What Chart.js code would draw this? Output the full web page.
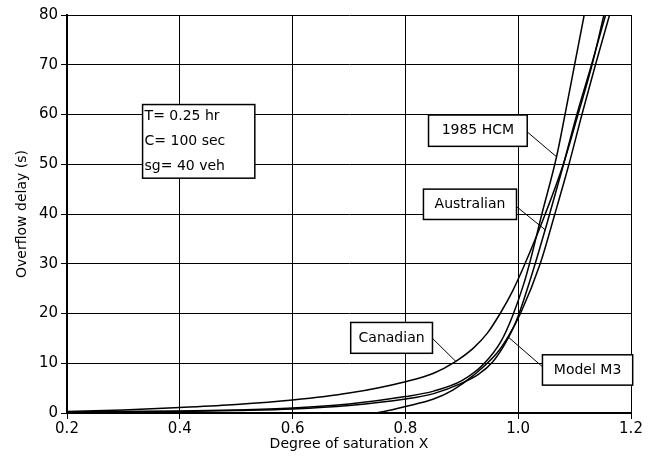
<!DOCTYPE html>
<html>

<head>
    <title>Overflow delay</title>
    <script src="https://cdn.jsdelivr.net/npm/chart.js"></script>
    <style>
        html, body {
            margin: 0;
            padding: 0;
            background: #fff;
        }

        #wrap {
            width: 654px;
            height: 461px;
        }
    </style>
</head>

<body>
    <div id="wrap"><canvas id="myChart"></canvas></div>

    <script>
        // values
        const xTicks = [0.2, 0.4, 0.6, 0.8, 1.0, 1.2];
        const yTicks = [0, 10, 20, 30, 40, 50, 60, 70, 80];

        const hcmX = [0.2, 0.3, 0.4, 0.5, 0.6, 0.7, 0.8, 0.85, 0.9, 0.94, 0.97, 0.99, 1.01, 1.02, 1.042, 1.068, 1.083, 1.1, 1.117];
        const hcmY = [0.2, 0.3, 0.4, 0.6, 1.0, 1.8, 3.3, 4.4, 6.5, 10, 14.5, 19.5, 26, 30, 40, 51.5, 60, 70, 80];

        const ausX = [0.2, 0.4, 0.5, 0.6, 0.7, 0.8, 0.85, 0.9, 0.93, 0.955, 0.975, 0.99, 1.0, 1.026, 1.052, 1.078, 1.104, 1.13, 1.155];
        const ausY = [0.1, 0.3, 0.5, 0.8, 1.5, 2.8, 3.9, 6, 7.8, 10.3, 13.6, 16.8, 19.5, 28.5, 38.5, 49, 60, 70, 80];

        const canX = [0.2, 0.3, 0.4, 0.5, 0.6, 0.7, 0.8, 0.85, 0.888, 0.92, 0.945, 0.968, 0.99, 1.012, 1.048, 1.08, 1.106, 1.131, 1.152];
        const canY = [0.3, 0.6, 1.1, 1.7, 2.6, 4.0, 6.3, 8.0, 10.3, 13, 16, 20, 24.5, 30, 40, 50, 60, 70, 80];

        const m3X = [0.2, 0.6, 0.74, 0.77, 0.8, 0.85, 0.884, 0.92, 0.962, 0.982, 1.004, 1.039, 1.065, 1.09, 1.113, 1.137, 1.162];
        const m3Y = [0, 0, 0, 0.5, 1.3, 2.8, 4.6, 7.5, 12, 15.3, 20, 30, 40, 50, 60, 70, 80];

        const paramLines = ['T= 0.25 hr', 'C= 100 sec', 'sg= 40 veh'];

        function pts(xs, ys) {
            return xs.map((x, i) => ({ x: x, y: ys[i] }));
        }

        function curve(label, xs, ys) {
            return {
                label: label,
                data: pts(xs, ys),
                showLine: true,
                borderColor: '#000',
                borderWidth: 1.5,
                pointRadius: 0,
                cubicInterpolationMode: 'monotone',
                fill: false
            };
        }

        const FONT = '"DejaVu Sans", sans-serif';

        // label boxes in data units, leader goes from [lx0,ly0] to [lx1,ly1]
        const boxes = [
            { text: ['1985 HCM'], x0: 0.841, x1: 1.016, y0: 59.9, y1: 53.6, lead: [1.016, 56.5, 1.068, 51.5] },
            { text: ['Australian'], x0: 0.832, x1: 0.997, y0: 45.0, y1: 38.9, lead: [0.997, 41.5, 1.048, 36.8] },
            { text: ['Canadian'], x0: 0.703, x1: 0.848, y0: 18.2, y1: 12.0, lead: [0.848, 15.0, 0.890, 10.3] },
            { text: ['Model M3'], x0: 1.043, x1: 1.203, y0: 11.7, y1: 5.6, lead: [1.043, 9.3, 0.982, 15.3] },
            { text: paramLines, x0: 0.334, x1: 0.533, y0: 62.0, y1: 47.2, left: true }
        ];

        const labelBoxes = {
            id: 'labelBoxes',
            afterDatasetsDraw(chart) {
                const c = chart.ctx;
                const xs = chart.scales.x;
                const ys = chart.scales.y;
                c.save();
                boxes.forEach(b => {
                    if (b.lead) {
                        c.beginPath();
                        c.strokeStyle = '#000';
                        c.lineWidth = 1;
                        c.moveTo(xs.getPixelForValue(b.lead[0]), ys.getPixelForValue(b.lead[1]));
                        c.lineTo(xs.getPixelForValue(b.lead[2]), ys.getPixelForValue(b.lead[3]));
                        c.stroke();
                    }
                    const px0 = xs.getPixelForValue(b.x0);
                    const px1 = xs.getPixelForValue(b.x1);
                    const py0 = ys.getPixelForValue(b.y0);
                    const py1 = ys.getPixelForValue(b.y1);
                    c.fillStyle = '#fff';
                    c.fillRect(px0, py0, px1 - px0, py1 - py0);
                    c.lineWidth = 1.5;
                    c.strokeStyle = '#000';
                    c.strokeRect(px0, py0, px1 - px0, py1 - py0);
                    c.fillStyle = '#000';
                    c.font = '14px ' + FONT;
                    c.textBaseline = 'middle';
                    const n = b.text.length;
                    const step = (py1 - py0) / n;
                    b.text.forEach((t, i) => {
                        const ty = py0 + step * (i + 0.5);
                        if (b.left) {
                            c.textAlign = 'left';
                            c.fillText(t, px0 + 2, ty);
                        } else {
                            c.textAlign = 'center';
                            c.fillText(t, (px0 + px1) / 2, ty);
                        }
                    });
                });
                c.restore();
            }
        };

        const ctx = document.getElementById('myChart').getContext('2d');

        const myChart = new Chart(ctx, {
            type: 'scatter',
            data: {
                datasets: [
                    curve('1985 HCM', hcmX, hcmY),
                    curve('Australian', ausX, ausY),
                    curve('Canadian', canX, canY),
                    curve('Model M3', m3X, m3Y)
                ]
            },
            options: {
                responsive: true,
                maintainAspectRatio: false,
                animation: false,
                layout: {
                    padding: { left: 14, right: 23, top: 15, bottom: 8 }
                },
                plugins: {
                    legend: { display: false },
                    tooltip: { enabled: false }
                },
                scales: {
                    x: {
                        type: 'linear',
                        min: 0.2,
                        max: 1.2,
                        afterBuildTicks: axis => { axis.ticks = xTicks.map(v => ({ value: v })); },
                        afterFit: axis => { axis.height = 40; },
                        grid: { color: '#000', lineWidth: 1, tickLength: 6, tickColor: '#000' },
                        border: { color: '#000', width: 2 },
                        ticks: {
                            color: '#000',
                            font: { family: FONT, size: 15 },
                            padding: 1,
                            maxRotation: 0,
                            callback: v => Number(v).toFixed(1)
                        },
                        title: {
                            display: true,
                            text: 'Degree of saturation X',
                            color: '#000',
                            font: { family: FONT, size: 14 },
                            padding: { top: 0, bottom: 0 }
                        }
                    },
                    y: {
                        min: 0,
                        max: 80,
                        afterBuildTicks: axis => { axis.ticks = yTicks.map(v => ({ value: v })); },
                        afterFit: axis => { axis.width = 53; },
                        grid: { color: '#000', lineWidth: 1, tickLength: 6, tickColor: '#000' },
                        border: { color: '#000', width: 2 },
                        ticks: {
                            color: '#000',
                            font: { family: FONT, size: 15 },
                            padding: 3
                        },
                        title: {
                            display: true,
                            text: 'Overflow delay (s)',
                            color: '#000',
                            font: { family: FONT, size: 14 },
                            padding: { top: 0, bottom: 0 }
                        }
                    }
                }
            },
            plugins: [labelBoxes]
        });
    </script>
</body>

</html>
